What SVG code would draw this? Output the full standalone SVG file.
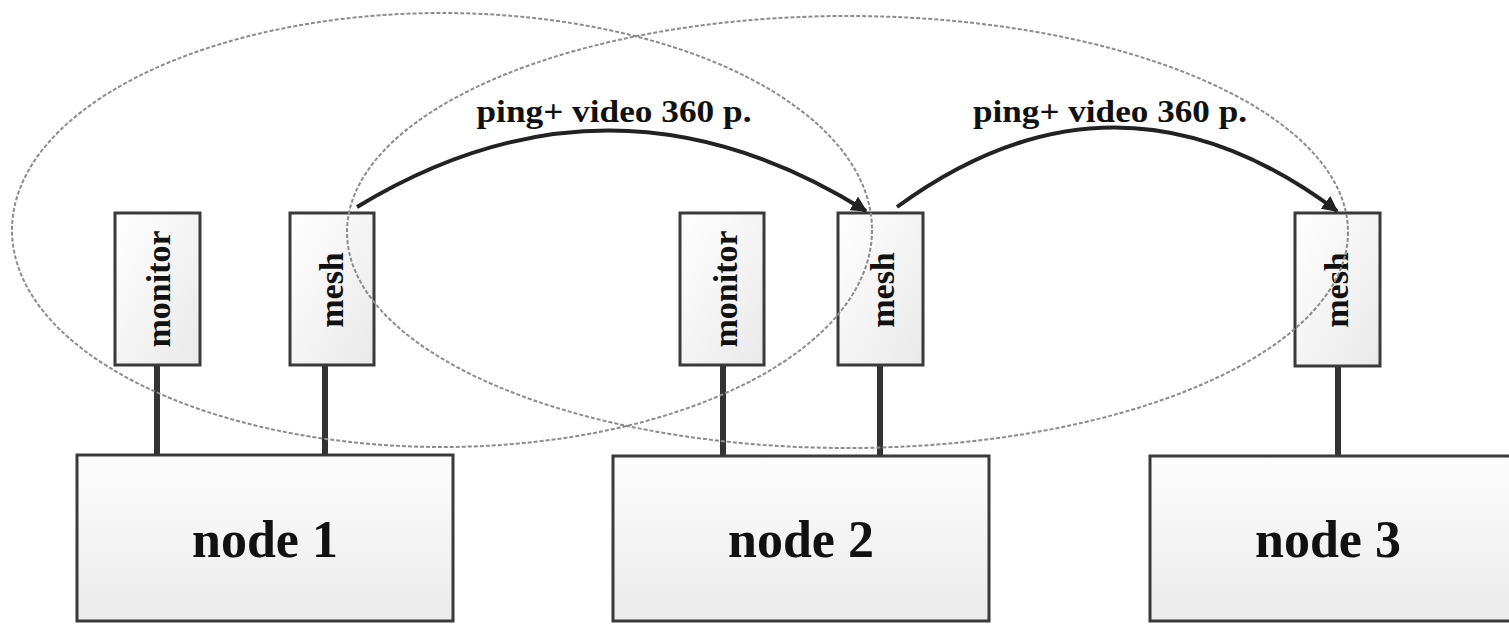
<svg xmlns="http://www.w3.org/2000/svg" width="1509" height="624" viewBox="0 0 1509 624">
  <defs>
    <linearGradient id="gBig" x1="0" y1="0" x2="0" y2="1">
      <stop offset="0" stop-color="#fdfdfd"/>
      <stop offset="1" stop-color="#ebebeb"/>
    </linearGradient>
    <linearGradient id="gSmall" x1="0" y1="0" x2="1" y2="1">
      <stop offset="0" stop-color="#ffffff"/>
      <stop offset="1" stop-color="#e9e9e9"/>
    </linearGradient>
    <marker id="arrow" viewBox="0 0 10 10" refX="9" refY="5" markerWidth="4" markerHeight="4" orient="auto" markerUnits="strokeWidth">
      <path d="M0,0 L10,5 L0,10 z" fill="#222"/>
    </marker>
    <style>
      .big { fill: url(#gBig); stroke: #3a3a3a; stroke-width: 3; }
      .small { fill: url(#gSmall); stroke: #3a3a3a; stroke-width: 3; }
      .stem { stroke: #333; stroke-width: 6; stroke-linecap: round; }
      .link { fill: none; stroke: #222; stroke-width: 4; }
      .range { fill: none; stroke: #8c8c8c; stroke-width: 2; stroke-dasharray: 4 2; }
      .nodeLabel { font-family: "Liberation Serif", "Times New Roman", serif; font-weight: bold; font-size: 52px; fill: #111; text-anchor: middle; }
      .boxLabel { font-family: "Liberation Serif", "Times New Roman", serif; font-weight: bold; font-size: 34px; fill: #111; text-anchor: middle; }
      .linkLabel { font-family: "Liberation Serif", "Times New Roman", serif; font-weight: bold; font-size: 32px; fill: #111; text-anchor: middle; }
    </style>
  </defs>

  <rect width="1509" height="624" fill="#ffffff"/>

  <g id="stems">
    <line class="stem" x1="157" y1="366" x2="157" y2="454"/>
    <line class="stem" x1="325" y1="366" x2="325" y2="454"/>
    <line class="stem" x1="723" y1="366" x2="723" y2="455"/>
    <line class="stem" x1="880" y1="366" x2="880" y2="455"/>
    <line class="stem" x1="1338" y1="367" x2="1338" y2="455"/>
  </g>

  <g id="node1">
    <rect class="big" x="77" y="455" width="376" height="166"/>
    <text class="nodeLabel" x="265" y="557">node 1</text>
  </g>
  <g id="node2">
    <rect class="big" x="613" y="456" width="376" height="165"/>
    <text class="nodeLabel" x="801" y="557">node 2</text>
  </g>
  <g id="node3">
    <rect class="big" x="1150" y="456" width="364" height="165"/>
    <text class="nodeLabel" x="1328" y="557">node 3</text>
  </g>

  <g id="monitor1">
    <rect class="small" x="115" y="213" width="85" height="152"/>
    <text class="boxLabel" transform="translate(170,289) rotate(-90)">monitor</text>
  </g>
  <g id="mesh1">
    <rect class="small" x="290" y="213" width="84" height="152"/>
    <text class="boxLabel" transform="translate(343,290) rotate(-90)">mesh</text>
  </g>
  <g id="monitor2">
    <rect class="small" x="680" y="213" width="84" height="152"/>
    <text class="boxLabel" transform="translate(737,289) rotate(-90)">monitor</text>
  </g>
  <g id="mesh2">
    <rect class="small" x="838" y="213" width="85" height="152"/>
    <text class="boxLabel" transform="translate(894,290) rotate(-90)">mesh</text>
  </g>
  <g id="mesh3">
    <rect class="small" x="1295" y="213" width="85" height="153"/>
    <text class="boxLabel" transform="translate(1348,290) rotate(-90)">mesh</text>
  </g>

  <g id="connectors">
    <path class="link" d="M357,207 Q612,52 866,211" marker-end="url(#arrow)"/>
    <text class="linkLabel" x="614" y="122" textLength="275" lengthAdjust="spacingAndGlyphs">ping+ video 360 p.</text>
    <path class="link" d="M897,207 Q1117,46 1337,211" marker-end="url(#arrow)"/>
    <text class="linkLabel" x="1110" y="122" textLength="274" lengthAdjust="spacingAndGlyphs">ping+ video 360 p.</text>
  </g>

  <g id="ranges">
    <ellipse class="range" cx="442" cy="230" rx="430" ry="217"/>
    <ellipse class="range" cx="847.5" cy="232" rx="500.5" ry="216"/>
  </g>
</svg>
